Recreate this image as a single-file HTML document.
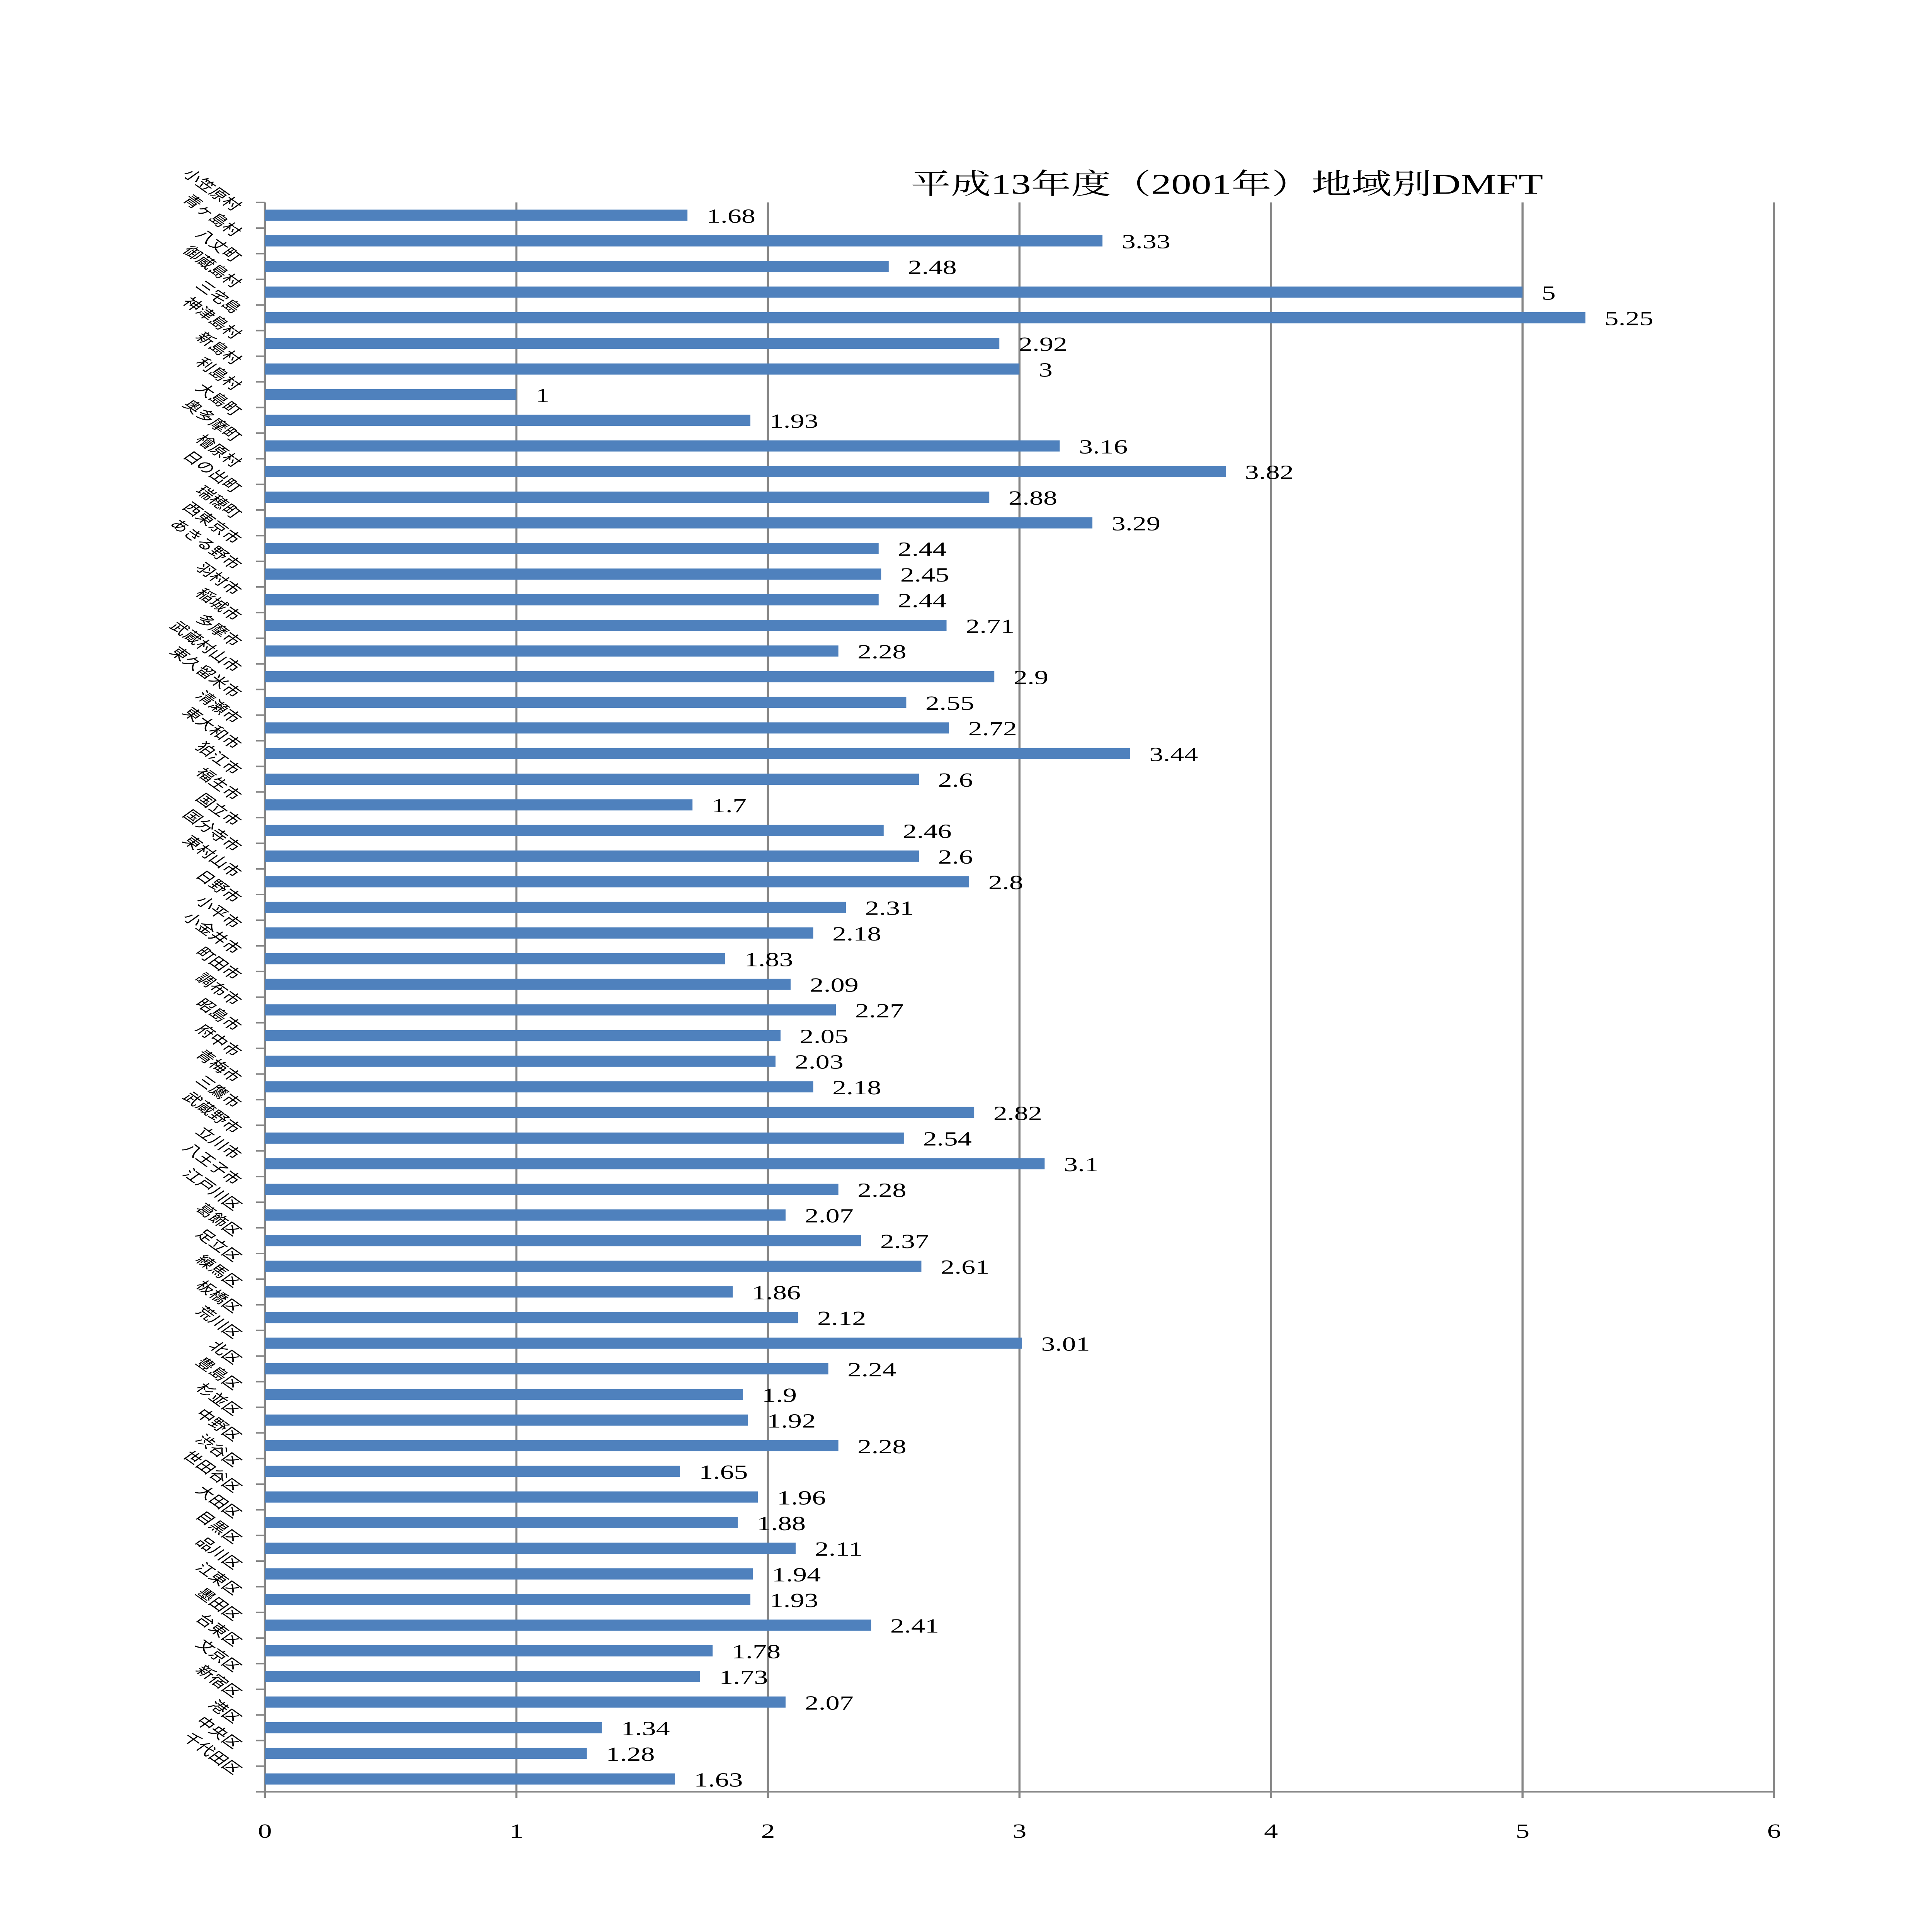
<!DOCTYPE html>
<html><head><meta charset="utf-8"><style>html,body{margin:0;padding:0;background:#fff;overflow:hidden;width:100%;height:100%}svg{display:block;position:fixed;left:0;top:0;width:100vw;height:100vh}</style></head>
<body>
<svg xmlns="http://www.w3.org/2000/svg" viewBox="0 0 1100 1555.9" preserveAspectRatio="none">
<rect width="1100" height="1555.9" fill="#fff"/>
<text x="704" y="156" font-family="Liberation Serif, 'Noto Serif CJK SC', serif" font-size="23" text-anchor="middle" fill="#000">平成13年度（2001年）地域別DMFT</text>
<g id="grid" stroke="#868686" stroke-width="1.2"></g>
<g id="bars" fill="#4f81bd"></g>
<g id="vals" font-family="Liberation Serif, serif" font-size="16" fill="#000"></g>
<g id="cats" font-family="'Liberation Sans','Noto Sans CJK JP',sans-serif" font-size="10.5" fill="#000"></g>
<g id="xt" font-family="Liberation Serif, serif" font-size="16" fill="#000" text-anchor="middle"></g>
</svg>
<script>
(function(){
var v=[1.68,3.33,2.48,5,5.25,2.92,3,1,1.93,3.16,3.82,2.88,3.29,2.44,2.45,2.44,2.71,2.28,2.9,2.55,2.72,3.44,2.6,1.7,2.46,2.6,2.8,2.31,2.18,1.83,2.09,2.27,2.05,2.03,2.18,2.82,2.54,3.1,2.28,2.07,2.37,2.61,1.86,2.12,3.01,2.24,1.9,1.92,2.28,1.65,1.96,1.88,2.11,1.94,1.93,2.41,1.78,1.73,2.07,1.34,1.28,1.63];
var c="小笠原村,青ヶ島村,八丈町,御蔵島村,三宅島,神津島村,新島村,利島村,大島町,奥多摩町,檜原村,日の出町,瑞穂町,西東京市,あきる野市,羽村市,稲城市,多摩市,武蔵村山市,東久留米市,清瀬市,東大和市,狛江市,福生市,国立市,国分寺市,東村山市,日野市,小平市,小金井市,町田市,調布市,昭島市,府中市,青梅市,三鷹市,武蔵野市,立川市,八王子市,江戸川区,葛飾区,足立区,練馬区,板橋区,荒川区,北区,豊島区,杉並区,中野区,渋谷区,世田谷区,大田区,目黒区,品川区,江東区,墨田区,台東区,文京区,新宿区,港区,中央区,千代田区".split(",");
var NS="http://www.w3.org/2000/svg",x0=152,u=144.33,yTop=163,yBot=1443,h=(yBot-yTop)/62;
function el(p,t,a,tx){var e=document.createElementNS(NS,t);for(var k in a)e.setAttribute(k,a[k]);if(tx!=null)e.textContent=tx;document.getElementById(p).appendChild(e);}
for(var i=1;i<=6;i++)el("grid","line",{x1:x0+i*u,y1:yTop,x2:x0+i*u,y2:yBot});
el("grid","line",{x1:x0,y1:yTop,x2:x0,y2:yBot});
el("grid","line",{x1:x0,y1:yBot,x2:x0+6*u,y2:yBot});
for(var i=0;i<=62;i++)el("grid","line",{x1:x0-5,y1:yTop+i*h,x2:x0,y2:yTop+i*h});
for(var i=0;i<=6;i++){el("grid","line",{x1:x0+i*u,y1:yBot,x2:x0+i*u,y2:yBot+5});el("xt","text",{x:x0+i*u,y:yBot+37},String(i));}
for(var i=0;i<62;i++){var yc=yTop+(i+0.5)*h,w=v[i]*u;
el("bars","rect",{x:x0,y:yc-4.5,width:w,height:9});
el("vals","text",{x:x0+w+11,y:yc+6},String(v[i]));
var ly=yc-3;el("cats","text",{x:134,y:ly,"text-anchor":"end",transform:"rotate(45 134 "+ly+")"},c[i]);}
})();
</script>
</body></html>
